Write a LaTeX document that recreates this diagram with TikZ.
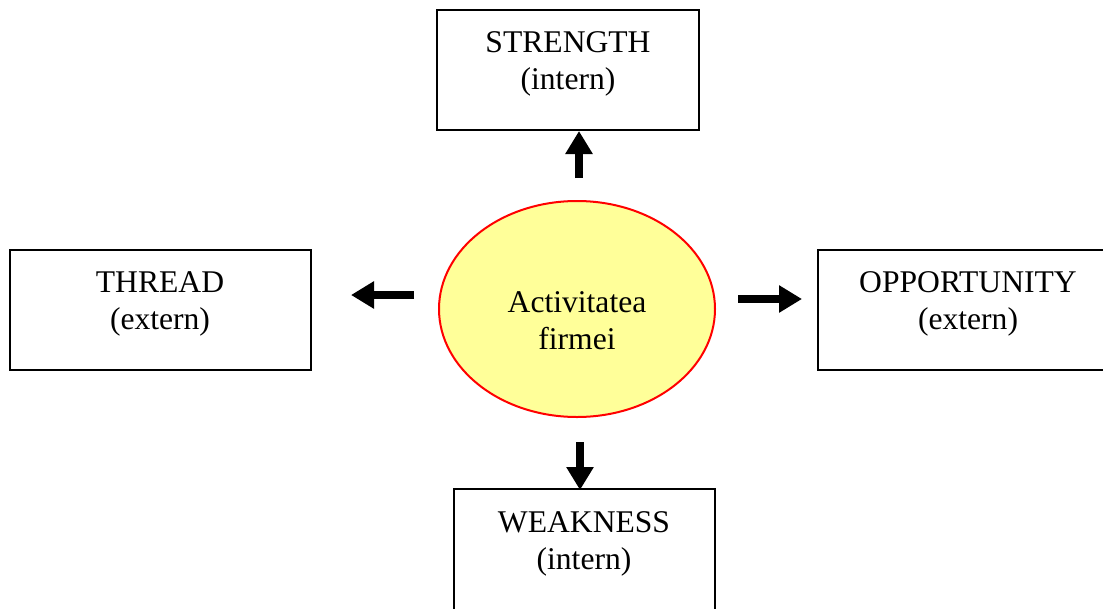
\documentclass[tikz,border=0pt]{standalone}
\usepackage{fontspec}
\setmainfont{Liberation Serif}
\usetikzlibrary{shapes.geometric,arrows.meta,calc}
\definecolor{ellfill}{HTML}{FFFF99}
\definecolor{ellline}{HTML}{FF0000}
\tikzset{
  box/.style={draw=black, line width=2pt, fill=white, inner sep=0pt},
  lbl/.style={align=center, inner sep=0pt, font=\fontsize{31.6}{37}\selectfont},
  blk/.style={line width=8.5pt, -{Triangle[length=23pt,width=26pt]}},
  ell/.style={ellipse, draw=ellline, fill=ellfill, line width=2pt, inner sep=0pt}
}
\begin{document}
\begin{tikzpicture}[x=1pt,y=-1pt]
\useasboundingbox (0,0) rectangle (1103,608);
\fill[white] (0,0) rectangle (1103,608);
\begin{scope}
\clip (0,0) rectangle (1103,608);
% boxes
\node[box, minimum width=262pt, minimum height=120pt] (s) at (568,70) {};
\node[box, minimum width=301pt, minimum height=120pt] (t) at (160.5,310) {};
\node[box, minimum width=300pt, minimum height=120pt] (o) at (968,310) {};
\node[box, minimum width=261pt, minimum height=140pt] (w) at (584.5,559) {};
\node[ell, minimum width=276pt, minimum height=216pt] (e) at (577,309) {};
\end{scope}
% labels (base = baseline of the last line)
\node[lbl, anchor=base] (sl) at (568,89) {STRENGTH\\(intern)};
\node[lbl, anchor=base] (tl) at (160,329) {THREAD\\(extern)};
\node[lbl, anchor=base] (ol) at (968,329) {OPPORTUNITY\\(extern)};
\node[lbl, anchor=base] (wl) at (584,569) {WEAKNESS\\(intern)};
\node[lbl, anchor=base] (el) at (577,349) {Activitatea\\firmei};
% arrows
\coordinate (u1) at (579,178); \coordinate (u2) at (579,131);
\coordinate (l1) at (414,295); \coordinate (l2) at (351,295);
\coordinate (r1) at (738,299); \coordinate (r2) at (802,299);
\coordinate (d1) at (580,442); \coordinate (d2) at (580,490);
\draw[blk] (u1) -- (u2);
\draw[blk] (l1) -- (l2);
\draw[blk] (r1) -- (r2);
\draw[blk] (d1) -- (d2);
\end{tikzpicture}
\end{document}
